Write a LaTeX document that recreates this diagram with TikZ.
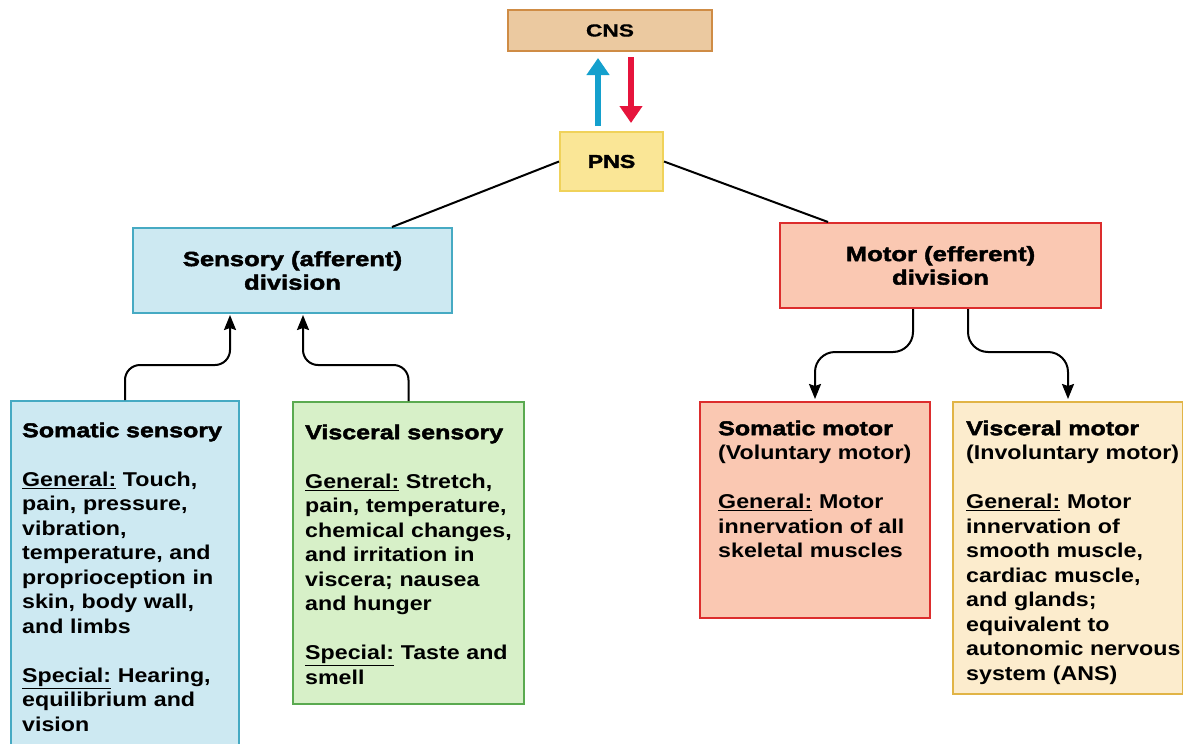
\documentclass[tikz,border=0pt]{standalone}
\usepackage{fontspec}
\setmainfont{Liberation Sans}[FakeStretch=1.16]
\newfontfamily\hvfam{Liberation Sans}[FakeStretch=1.25, FakeBold=2.2]
\newfontfamily\cnsfam{Liberation Sans}[FakeStretch=1.3, FakeBold=0.6]
\usetikzlibrary{arrows.meta}
\newcommand\ttl{\hvfam\bfseries}
\newcommand\ulx[1]{\underline{#1}}
\definecolor{cnsfill}{HTML}{EBC9A0}
\definecolor{cnsdraw}{HTML}{CF8C45}
\definecolor{pnsfill}{HTML}{FAE696}
\definecolor{pnsdraw}{HTML}{F0D25A}
\definecolor{sfill}{HTML}{CDE9F2}
\definecolor{sdraw}{HTML}{46AAC3}
\definecolor{gfill}{HTML}{D7F0C8}
\definecolor{gdraw}{HTML}{5AAA50}
\definecolor{mfill}{HTML}{FAC8B2}
\definecolor{mdraw}{HTML}{DC2D2D}
\definecolor{yfill}{HTML}{FCECCD}
\definecolor{ydraw}{HTML}{E1B446}
\definecolor{upblue}{HTML}{14A0CD}
\definecolor{downred}{HTML}{E6143C}
\begin{document}
\begin{tikzpicture}[x=1pt,y=-1pt,
  box/.style={draw, line width=2pt, inner sep=0pt, anchor=north west},
  txt/.style={anchor=north west, inner sep=0pt, text width=240pt, align=left,
    font=\bfseries\fontsize{20}{24.5}\selectfont},
  conn/.style={line width=2pt, black},
  arr/.style={conn, -{Stealth[length=15pt,width=12pt,inset=2pt]}},
  fatarr/.style={line width=6pt, -{Triangle[length=17pt,width=22pt]}},
  divtitle/.style={align=center, font=\ttl\fontsize{20.5}{23.5}\selectfont}]
\clip (0,0) rectangle (1183,744);
\fill[white] (0,0) rectangle (1183,744);

% top
\node[box, draw=cnsdraw, fill=cnsfill, minimum width=204, minimum height=41,
  font=\cnsfam\bfseries\fontsize{17.5}{20}\selectfont] (cns) at (507,9) {CNS};
\node[box, draw=pnsdraw, fill=pnsfill, minimum width=103, minimum height=59,
  font=\ttl\fontsize{18.5}{20}\selectfont] (pns) at (559,131) {PNS};

% divisions
\node[box, draw=sdraw, fill=sfill, minimum width=319, minimum height=85, divtitle]
  (sens) at (132,227) {Sensory (afferent)\\division};
\node[box, draw=mdraw, fill=mfill, minimum width=321, minimum height=85, divtitle]
  (mot) at (779,222) {Motor (efferent)\\division};

% bottom boxes
\node[box, draw=sdraw, fill=sfill, minimum width=228, minimum height=360] (ssom) at (10,400) {};
\node[txt] (ssomt) at ([shift={(12,22)}]ssom.north west) {\rule{0pt}{15pt}{\ttl Somatic sensory}\\[24.5pt]
\ulx{General:} Touch,\\pain, pressure,\\vibration,\\temperature, and\\proprioception in\\skin, body wall,\\and limbs\\[24.5pt]
\ulx{Special:} Hearing,\\equilibrium and\\vision};

\node[box, draw=gdraw, fill=gfill, minimum width=231, minimum height=302] (vsen) at (292,401) {};
\node[txt] (vsent) at ([shift={(13,23)}]vsen.north west) {\rule{0pt}{15pt}{\ttl Visceral sensory}\\[24.5pt]
\ulx{General:} Stretch,\\pain, temperature,\\chemical changes,\\and irritation in\\viscera; nausea\\and hunger\\[24.5pt]
\ulx{Special:} Taste and\\smell};

\node[box, draw=mdraw, fill=mfill, minimum width=230, minimum height=216] (smot) at (699,401) {};
\node[txt] (smott) at ([shift={(19,19)}]smot.north west) {\rule{0pt}{15pt}{\ttl Somatic motor}\\(Voluntary motor)\\[24.5pt]
\ulx{General:} Motor\\innervation of all\\skeletal muscles};

\node[box, draw=ydraw, fill=yfill, minimum width=230, minimum height=292] (vmot) at (952,401) {};
\node[txt] (vmott) at ([shift={(14,19)}]vmot.north west) {\rule{0pt}{15pt}{\ttl Visceral motor}\\(Involuntary motor)\\[24.5pt]
\ulx{General:} Motor\\innervation of\\smooth muscle,\\cardiac muscle,\\and glands;\\equivalent to\\autonomic nervous\\system (ANS)};

% CNS <-> PNS
\coordinate (bx) at (598,0);
\coordinate (rx) at (631,0);
\draw[fatarr, color=upblue, shorten <=5pt, shorten >=6pt] (pns.north -| bx) -- (cns.south -| bx);
\draw[fatarr, color=downred, shorten <=5pt, shorten >=8pt] (cns.south -| rx) -- (pns.north -| rx);

% PNS to divisions
\draw[conn] (pns.west) -- ([xshift=-61pt]sens.north east);
\draw[conn] (pns.east) -- ([xshift=49pt]mot.north west);

% sensory arrows
\coordinate (s1) at (230,365);
\coordinate (s2) at (303,365);
\draw[arr, rounded corners=15pt, shorten >=1pt] (ssom.north) |- (s1) -- (sens.south -| s1);
\draw[arr, rounded corners=15pt, shorten >=1pt] (vsen.north) |- (s2) -- (sens.south -| s2);

% motor arrows
\coordinate (m1) at (913,352);
\coordinate (m2) at (968,352);
\draw[arr, rounded corners=20pt, shorten >=2pt] (mot.south -| m1) |- (smot.north |- m1) -- (smot.north);
\draw[arr, rounded corners=20pt, shorten >=2pt] (mot.south -| m2) |- (vmot.north |- m2) -- (vmot.north);
\end{tikzpicture}
\end{document}
